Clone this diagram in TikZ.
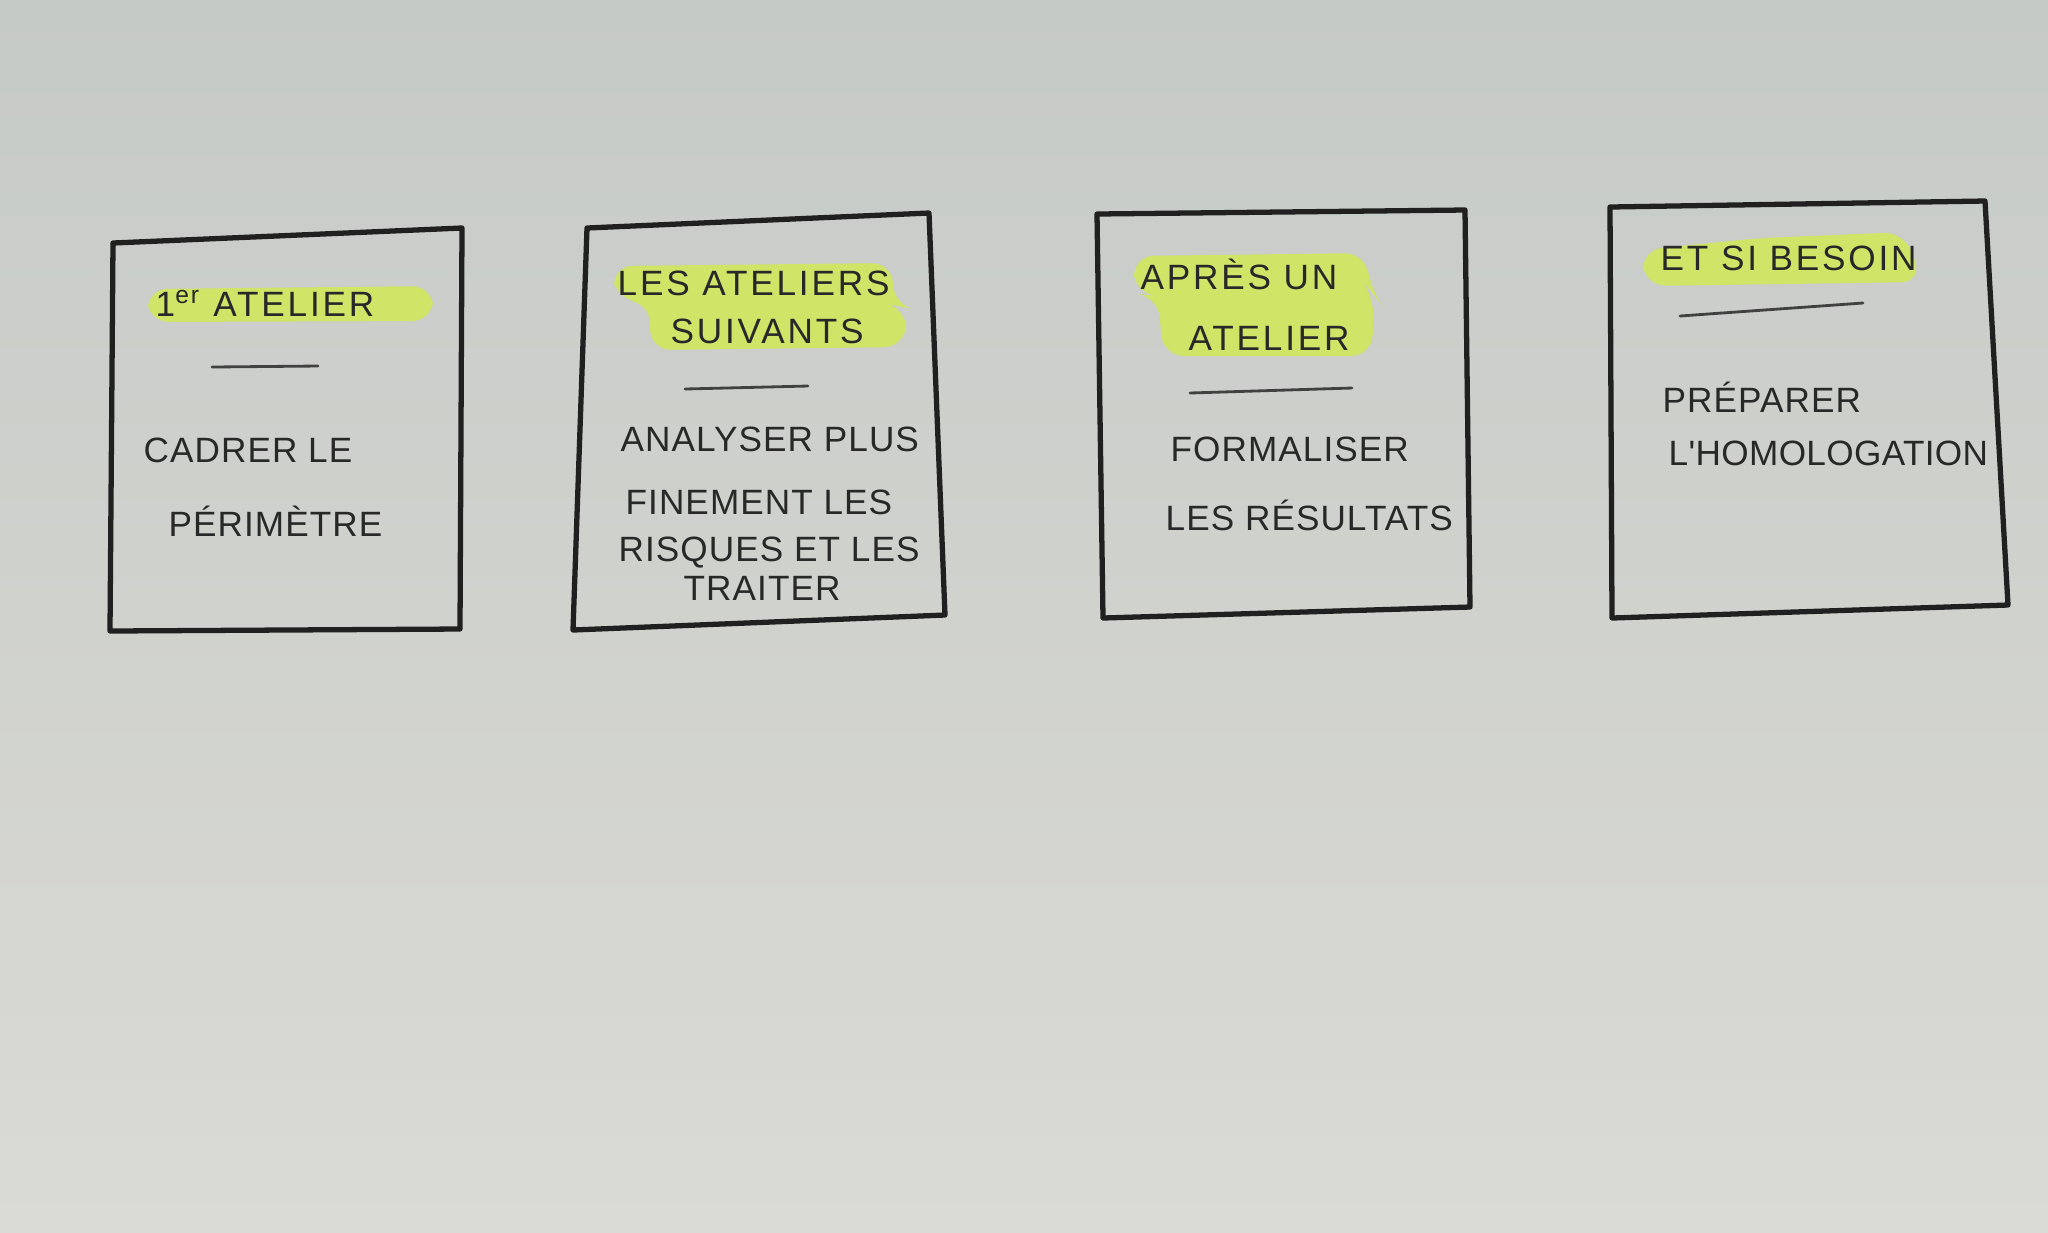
\documentclass[tikz,border=0pt]{standalone}
\usepackage{fontspec}
\setmainfont{Liberation Sans}
\newfontfamily\titlefont[LetterSpace=8]{Liberation Sans}
\newfontfamily\bodyfont[LetterSpace=3]{Liberation Sans}
\newfontfamily\tightfont[LetterSpace=1]{Liberation Sans}
\definecolor{paperTop}{RGB}{198,202,198}
\definecolor{paperMid}{RGB}{212,214,210}
\definecolor{paperBot}{RGB}{218,218,214}
\definecolor{marker}{RGB}{208,228,104}
\definecolor{ink}{RGB}{32,32,32}
\definecolor{pen}{RGB}{40,40,40}
\tikzset{
  cardbox/.style={draw=ink, line width=1.5pt, line join=round, line cap=round},
  hilite/.style={fill=marker, draw=none, rounded corners=6pt},
  divider/.style={draw=ink!85, line width=0.8pt, line cap=round},
  title/.style={inner sep=0pt, anchor=west, text=pen, font=\titlefont\fontsize{10}{12}\selectfont},
  body/.style={inner sep=0pt, anchor=west, text=pen, font=\bodyfont\fontsize{10}{12}\selectfont}
}
\begin{document}
\begin{tikzpicture}[x=0.01cm, y=-0.01cm]
\useasboundingbox (0,0) rectangle (2048,1232);
\shade[top color=paperTop, middle color=paperMid, bottom color=paperBot] (0,0) rectangle (2048,1232);

% ---------- card 1
\fill[hilite] (147,289) -- (433,286) -- (433,321) -- (148,322) -- cycle;
\draw[cardbox] (113,243) -- (462,228) -- (460,629) -- (110,631) -- cycle;
\node[title] (t1) at (155,303) {1\textsuperscript{er} ATELIER};
\coordinate (d1a) at (212,367);
\coordinate (d1b) at (318,366);
\draw[divider] (d1a) -- (d1b);
\node[body] (b1a) at (143,450) {CADRER LE};
\node[body] (b1b) at (168,521) {PÉRIMÈTRE};

% ---------- card 2
\fill[hilite] (612,266) -- (893,263) -- (893,305) -- (907,308) -- (905,347) -- (650,350) -- (650,302) -- (616,300) -- cycle;
\draw[cardbox] (587,228) -- (929,213) -- (945,615) -- (573,630) -- cycle;
\node[title] (t2a) at (617,283) {LES ATELIERS};
\node[title] (t2b) at (670,331) {SUIVANTS};
\coordinate (d2a) at (685,389);
\coordinate (d2b) at (808,386);
\draw[divider] (d2a) -- (d2b);
\node[body] (b2a) at (620,439) {ANALYSER PLUS};
\node[body] (b2b) at (625,502) {FINEMENT LES};
\node[body] (b2c) at (618,553) {RISQUES ET LES};
\node[body] (b2d) at (683,588) {TRAITER};

% ---------- card 3
\fill[hilite] (1133,256) -- (1366,253) -- (1370,290) -- (1374,295) -- (1372,356) -- (1163,356) -- (1158,296) -- (1135,294) -- cycle;
\draw[cardbox] (1097,214) -- (1465,210) -- (1470,607) -- (1103,618) -- cycle;
\node[title] (t3a) at (1140,274) {APRÈS UN};
\node[title] (t3b) at (1188,338) {ATELIER};
\coordinate (d3a) at (1190,393);
\coordinate (d3b) at (1352,388);
\draw[divider] (d3a) -- (d3b);
\node[body] (b3a) at (1170,449) {FORMALISER};
\node[body] (b3b) at (1165,515) {LES RÉSULTATS};

% ---------- card 4
\fill[hilite] (1641,250) -- (1760,238) -- (1905,232) -- (1922,282) -- (1645,286) -- cycle;
\draw[cardbox] (1610,207) -- (1985,201) -- (2008,605) -- (1612,618) -- cycle;
\node[title] (t4) at (1660,258) {ET SI BESOIN};
\coordinate (d4a) at (1680,316);
\coordinate (d4b) at (1863,303);
\draw[divider] (d4a) -- (d4b);
\node[body] (b4a) at (1662,397) {PRÉPARER};
\node[body, font=\tightfont\fontsize{10}{12}\selectfont] (b4b) at (1668,453) {L'HOMOLOGATION};
\end{tikzpicture}
\end{document}
